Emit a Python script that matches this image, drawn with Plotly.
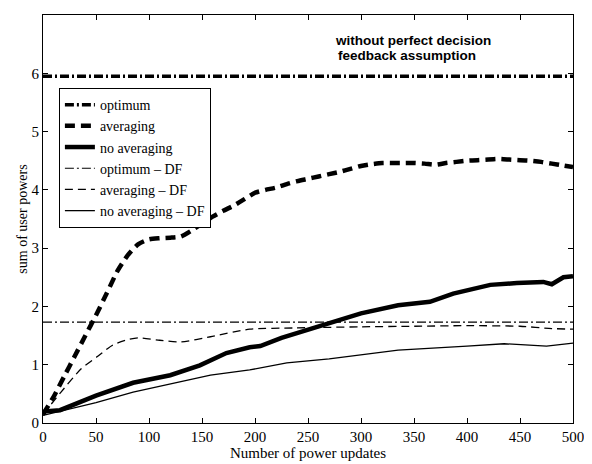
import plotly.graph_objects as go

# ---- data ----
opt_x = [0, 500]
opt_y = [5.95, 5.95]

optdf_x = [0, 500]
optdf_y = [1.73, 1.73]

avg_x = [0, 10, 20, 30, 40, 50, 60, 70, 80, 90, 100, 110, 120, 130, 140, 150, 160, 170, 180, 190,
         200, 210, 220, 230, 240, 250, 260, 270, 280, 290, 300, 310, 320, 330, 340, 350, 360, 370,
         380, 390, 400, 410, 420, 430, 440, 450, 460, 470, 480, 490, 500]
avg_y = [0.15, 0.45, 0.8, 1.15, 1.5, 1.85, 2.22, 2.6, 2.88, 3.07, 3.15, 3.17, 3.18, 3.2, 3.3, 3.42,
         3.54, 3.64, 3.73, 3.84, 3.95, 4.0, 4.04, 4.1, 4.15, 4.19, 4.23, 4.27, 4.31, 4.36, 4.41,
         4.44, 4.46, 4.46, 4.46, 4.46, 4.45, 4.43, 4.46, 4.48, 4.5, 4.51, 4.52, 4.53, 4.52, 4.51,
         4.5, 4.48, 4.45, 4.42, 4.39]

noavg_x = [0, 2, 16, 50, 85, 120, 148, 173, 195, 205, 225, 250, 270, 300, 335, 365, 387, 422,
           447, 472, 480, 491, 500]
noavg_y = [0.15, 0.2, 0.22, 0.47, 0.69, 0.82, 0.99, 1.2, 1.3, 1.32, 1.46, 1.6, 1.71, 1.88, 2.02,
           2.08, 2.22, 2.37, 2.4, 2.42, 2.38, 2.5, 2.52]

avgdf_x = [0, 17, 36, 52, 66, 80, 90, 110, 130, 158, 195, 236, 300, 350, 400, 450, 480, 500]
avgdf_y = [0.15, 0.53, 0.93, 1.15, 1.34, 1.43, 1.46, 1.42, 1.39, 1.48, 1.61, 1.63, 1.65, 1.66,
           1.67, 1.66, 1.62, 1.61]

noavgdf_x = [0, 50, 85, 125, 158, 195, 230, 270, 300, 335, 400, 435, 475, 500]
noavgdf_y = [0.13, 0.35, 0.53, 0.69, 0.82, 0.91, 1.03, 1.1, 1.17, 1.25, 1.32, 1.36, 1.32, 1.37]

x_ticks = [0, 50, 100, 150, 200, 250, 300, 350, 400, 450, 500]
y_ticks = [0, 1, 2, 3, 4, 5, 6, 7]

note_lines = ["without perfect decision", "feedback assumption"]

SERIF = "Liberation Serif"

fig = go.Figure()
fig.add_trace(go.Scatter(x=opt_x, y=opt_y, mode="lines", name="optimum",
                         line=dict(color="black", width=3.5, dash="9px,3px,2px,3px")))
fig.add_trace(go.Scatter(x=avg_x, y=avg_y, mode="lines", name="averaging",
                         line=dict(color="black", width=4.5, dash="10px,6px", shape="spline",
                                   smoothing=0.6)))
fig.add_trace(go.Scatter(x=noavg_x, y=noavg_y, mode="lines", name="no averaging",
                         line=dict(color="black", width=4.5)))
fig.add_trace(go.Scatter(x=optdf_x, y=optdf_y, mode="lines", name="optimum \u2013 DF",
                         line=dict(color="black", width=1.2, dash="9px,3px,2px,3px")))
fig.add_trace(go.Scatter(x=avgdf_x, y=avgdf_y, mode="lines", name="averaging \u2013 DF",
                         line=dict(color="black", width=1.3, dash="8px,5px", shape="spline",
                                   smoothing=0.6)))
fig.add_trace(go.Scatter(x=noavgdf_x, y=noavgdf_y, mode="lines", name="no averaging \u2013 DF",
                         line=dict(color="black", width=1.3)))

axis_common = dict(showgrid=False, zeroline=False, showline=True, linecolor="black",
                   linewidth=1, mirror="ticks", ticks="inside", ticklen=5, tickcolor="black",
                   automargin=False,
                   tickfont=dict(family=SERIF, size=15, color="black"))

fig.update_xaxes(range=[0, 500], tickvals=x_ticks,
                 title=dict(text="Number of power updates", standoff=0,
                            font=dict(family=SERIF, size=15, color="black")),
                 **axis_common)
fig.update_yaxes(range=[0, 7], tickvals=y_ticks,
                 title=dict(text="sum of user powers", standoff=0,
                            font=dict(family=SERIF, size=14, color="black")),
                 **axis_common)

note_font = dict(family="Liberation Sans", size=13.5, color="black", weight="bold")
fig.add_annotation(x=349, y=6.57, xref="x", yref="y", showarrow=False,
                   text=note_lines[0], font=note_font)
fig.add_annotation(x=343, y=6.31, xref="x", yref="y", showarrow=False,
                   text=note_lines[1], font=note_font)

# page body has an 8px default margin, so the figure is sized to fit the 592x464 window
fig.update_layout(
    width=584, height=456,
    margin=dict(l=35, r=19, t=7, b=41, autoexpand=False),
    font=dict(family=SERIF, color="black"),
    plot_bgcolor="white", paper_bgcolor="white",
    legend=dict(x=0.03, y=0.821, xanchor="left", yanchor="top",
                bordercolor="black", borderwidth=1, bgcolor="white",
                font=dict(family=SERIF, size=14, color="black"),
                tracegroupgap=0, itemwidth=30),
)

fig.write_html("out.html")
